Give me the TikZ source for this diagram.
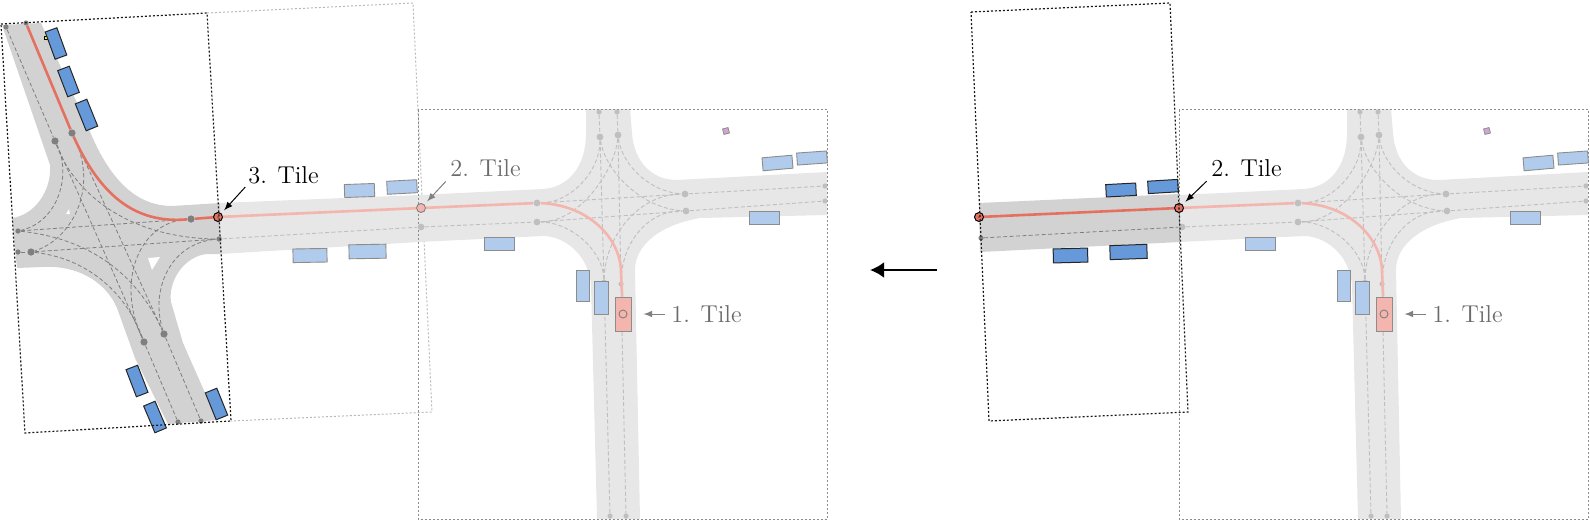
\documentclass[tikz,border=0pt]{standalone}
\usepackage{xcolor}
\usetikzlibrary{arrows,arrows.meta,shapes,positioning}

\definecolor{roadLight}{HTML}{E7E7E7}
\definecolor{roadDark}{HTML}{D2D2D2}
\definecolor{carLightFill}{HTML}{B1CBEC}
\definecolor{carDarkFill}{HTML}{6699D9}
\definecolor{egoFill}{HTML}{F3B5AD}
\definecolor{routeDark}{HTML}{E6705F}
\definecolor{routeLight}{HTML}{F3B5AD}
\definecolor{pointDark}{HTML}{7F7F7F}
\definecolor{pointLight}{HTML}{BFBFBF}

\tikzset{
    lane/.style={draw=pointLight, line width=.45pt, dash pattern=on 2pt off 1.2pt},
    laneDark/.style={draw=pointDark, line width=.4pt, dash pattern=on 2pt off 1.2pt},
    route/.style={draw=routeLight, line width=1.3pt},
    routeActive/.style={draw=routeDark, line width=1.3pt},
    point/.style={circle, fill=pointLight, inner sep=0pt, minimum size=2.6pt},
    pointBig/.style={point, minimum size=3.4pt},
    pointD/.style={circle, fill=pointDark, inner sep=0pt, minimum size=2.6pt},
    pointDBig/.style={pointD, minimum size=3.6pt},
    carLight/.style={draw=black!45, fill=carLightFill, line width=.45pt, inner sep=0pt, minimum width=15pt, minimum height=6.5pt},
    carDark/.style={draw=black!85, fill=carDarkFill, line width=.5pt, inner sep=0pt, minimum width=15pt, minimum height=6.2pt},
    ego/.style={draw=black!45, fill=egoFill, line width=.45pt, inner sep=0pt, minimum width=8pt, minimum height=17pt},
    egoDot/.style={circle, draw=black!50, line width=.45pt, inner sep=0pt, minimum size=4pt},
    nextFaint/.style={circle, draw=black!50, fill=routeLight, line width=.45pt, inner sep=0pt, minimum size=4.5pt},
    nextActive/.style={circle, draw=black, fill=routeDark, line width=.5pt, inner sep=0pt, minimum size=4.5pt,
        path picture={\fill[black!70] (path picture bounding box.center) circle (.4pt);}},
    tileBlack/.style={draw=black!90, line width=.6pt, dash pattern=on 1pt off 1pt},
    tileGray/.style={draw=black!45, line width=.5pt, dash pattern=on 1pt off 1pt},
    tileFaint/.style={draw=black!28, line width=.5pt, dash pattern=on 1pt off 1pt},
    labelFaint/.style={text=black!58, inner sep=0pt, font=\fontsize{12.2}{14}\selectfont},
    labelActive/.style={text=black, inner sep=0pt, font=\fontsize{12.2}{14}\selectfont},
    pointer/.style={->, >=latex, draw=black!50, line width=.5pt},
    pointerActive/.style={->, >=latex, draw=black, line width=.5pt},
}

% #1 prefix of the names, #2 style of the 2. tile point, #3 style of its label, #4 style of its pointer, #5 x of the point
\newcommand{\crossing}[5]{
    \fill[roadLight] (419,195) -- (543,189) .. controls (570,187) and (586,165) .. (586,133) -- (586,109)
        -- (630,109) -- (632,133) .. controls (634,162) and (652,180) .. (677,180) -- (827,172)
        -- (827,215) -- (700,218) .. controls (660,225) and (635,245) .. (635,270) -- (640,519)
        -- (597,519) -- (591,285) .. controls (588,252) and (562,236) .. (543,236) -- (419,242) -- cycle;
    \draw[tileGray] (418,109.5) rectangle (827,519);

    \node[point] (#1N1) at (599,112) {};
    \node[point] (#1N2) at (617,112) {};
    \node[pointBig] (#1N3) at (600,137) {};
    \node[pointBig] (#1N4) at (618,135) {};
    \node[pointBig] (#1W1) at (537,203) {};
    \node[pointBig] (#1W2) at (537,222) {};
    \node[pointBig] (#1E1) at (685,194) {};
    \node[pointBig] (#1E2) at (686,211) {};
    \node[point] (#1E3) at (825,186) {};
    \node[point] (#1E4) at (825,201) {};
    \node[point] (#1S1) at (621,284) {};
    \node[point] (#1S2) at (604,282) {};
    \node[point] (#1S3) at (626,516) {};
    \node[point] (#1S4) at (610,516) {};
    \node[pointBig] (#1F1) at (421,227) {};

    \draw[lane] (#1N1) -- (#1N3);
    \draw[lane] (#1N2) -- (#1N4);
    \draw[lane] (#1N3) -- (#1S2);
    \draw[lane] (#1N4) -- (#1S1);
    \draw[lane] (#1W1) -- (#1E1);
    \draw[lane] (#1W2) -- (#1E2);
    \draw[lane] (#1E1) -- (#1E3);
    \draw[lane] (#1E2) -- (#1E4);
    \draw[lane] (#1F1) -- (#1W2);
    \draw[lane] (#1S2) -- (#1S4);
    \draw[lane] (#1S1) -- (#1S3);
    \draw[lane] (#1N3) .. controls (600,172) and (570,203) .. (#1W1);
    \draw[lane] (#1N3) .. controls (605,170) and (640,208) .. (#1E2);
    \draw[lane] (#1N4) .. controls (622,165) and (650,192) .. (#1E1);
    \draw[lane] (#1N4) .. controls (615,170) and (580,222) .. (#1W2);
    \draw[lane] (#1S2) .. controls (603,250) and (570,222) .. (#1W2);
    \draw[lane] (#1S2) .. controls (605,235) and (640,194) .. (#1E1);
    \draw[lane] (#1S1) .. controls (622,240) and (650,210) .. (#1E2);

    \node[ego] (#1C0) at (623,314) {};
    \node[egoDot] (#1C00) at (623,314) {};
    \node[#2] (#1T2) at (#5,208) {};
    \draw[route] (#1C0) -- (621,272) .. controls (621,240) and (590,205) .. (#1W1);
    \draw[route] (#1W1) -- (#1T2);

    \node[carLight, minimum width=7pt, minimum height=16.5pt] (#1C1) at (601,297.5) {};
    \node[carLight, minimum width=6.5pt, minimum height=15.5pt] (#1C2) at (582.5,285.5) {};
    \node[carLight] (#1C3) at (499,243.5) {};
    \node[carLight] (#1C4) at (764.5,218) {};
    \node[carLight, rotate=5] (#1C5) at (777.5,163) {};
    \node[carLight, rotate=4, minimum height=6pt] (#1C6) at (812,158) {};
    \node[draw=black!45, fill=violet!35, line width=.4pt, inner sep=0pt, minimum size=2.8pt, rotate=15] (#1D1) at (726,131) {};

    \node[labelFaint] (#1L1) at (706.5,314) {1. Tile};
    \node[#3] (#1L2) at (485.5,168) {2. Tile};
    \draw[pointer, shorten <=3pt, shorten >=6pt] (#1L1.west) -- (#1C0.east);
    \draw[#4, shorten <=3pt, shorten >=2pt] (#1L2.south west) -- (#1T2);
}

\begin{document}
\begin{tikzpicture}[x=.5pt, y=-.5pt]
    \useasboundingbox (0,0) rectangle (1590,520);

    % the last step, tile 3 laid over tile 2
    \draw[tileFaint] (207,13) -- (413,3) -- (432,412) -- (231,421);
    \fill[roadLight] (220,203) -- (419,195) -- (419,242) -- (220,254) -- cycle;
    \crossing{m}{nextFaint}{labelFaint}{pointer}{421}

    \node[pointBig] (mF2) at (219,239) {};
    \draw[lane] (mF2) -- (mF1);

    \node[carLight, rotate=2] (mC7) at (359.5,190.5) {};
    \node[carLight, rotate=3] (mC8) at (402,187) {};
    \node[carLight, rotate=1, minimum width=17pt, minimum height=6.8pt] (mC9) at (310,255.5) {};
    \node[carLight, rotate=1, minimum width=18.5pt, minimum height=7pt] (mC10) at (367.5,251.5) {};

    \fill[roadDark] (2,25) -- (41,23) -- (95,143) .. controls (115,185) and (140,206) .. (172,206) -- (220,203)
        -- (220,254) -- (207,254) .. controls (185,256) and (168,280) .. (171,302) -- (183,343) -- (217,420)
        -- (168,424) -- (135,358) -- (117,308) .. controls (105,280) and (75,265) .. (43,267) -- (17,268)
        -- (12,218) .. controls (35,215) and (52,190) .. (50,165) -- cycle;
    \fill[white] (148,258) -- (160,257) -- (152,270) -- cycle;
    \fill[white] (69,209) -- (70,214) -- (66,214) -- cycle;

    \node[pointD] (n0) at (6,27) {};
    \node[pointD] (n1) at (26,23) {};
    \node[pointDBig] (n2) at (55,141) {};
    \node[pointDBig] (n3) at (72,133) {};
    \node[pointD] (w1) at (18,231) {};
    \node[pointD] (w2) at (18,252) {};
    \node[pointDBig] (w3) at (31,252) {};
    \node[pointDBig] (e1) at (191,219) {};
    \node[pointD] (e2) at (219,239) {};
    \node[pointDBig] (s1) at (144,342) {};
    \node[pointDBig] (s2) at (164,334) {};
    \node[pointD] (s3) at (178,422) {};
    \node[pointD] (s4) at (201,421) {};

    \draw[laneDark] (n0) -- (n2);
    \draw[laneDark] (n2) -- (s1);
    \draw[laneDark] (n3) -- (s2);
    \draw[laneDark] (s1) -- (s3);
    \draw[laneDark] (s2) -- (s4);
    \draw[laneDark] (w1) -- (e1);
    \draw[laneDark] (w2) -- (w3);
    \draw[laneDark] (w3) -- (e2);
    \draw[laneDark] (n2) .. controls (72,175) and (58,222) .. (w1);
    \draw[laneDark] (n2) .. controls (75,195) and (130,238) .. (e2);
    \draw[laneDark] (n3) .. controls (100,190) and (70,240) .. (w3);
    \draw[laneDark] (w1) .. controls (85,238) and (135,270) .. (s2);
    \draw[laneDark] (w3) .. controls (85,258) and (125,290) .. (s1);
    \draw[laneDark] (s1) .. controls (115,280) and (140,222) .. (e1);
    \draw[laneDark] (s2) .. controls (150,290) and (170,243) .. (e2);

    \node[nextActive] (t3) at (218,217) {};
    \draw[route] (t3) -- (mT2);
    \draw[routeActive] (n1) -- (n3) .. controls (100,195) and (135,224) .. (e1) -- (t3);

    \node[draw=black, fill=yellow, line width=.3pt, inner sep=0pt, minimum size=1.6pt] (y1) at (46,38) {};
    \node[carDark, minimum width=6.2pt, minimum height=14.5pt, rotate=20] (b1) at (56,43.5) {};
    \node[carDark, minimum width=6.2pt, minimum height=14pt, rotate=21] (b2) at (68.5,81.5) {};
    \node[carDark, minimum width=6.2pt, minimum height=14.5pt, rotate=22] (b3) at (86.5,115) {};
    \node[carDark, minimum width=6.2pt, minimum height=14.5pt, rotate=21] (b4) at (137,381) {};
    \node[carDark, minimum width=6.2pt, minimum height=14.5pt, rotate=23] (b5) at (155,417) {};
    \node[carDark, minimum width=6.2pt, minimum height=14.5pt, rotate=22] (b6) at (216.5,404) {};

    \draw[tileBlack] (1,24) -- (207,13) -- (231,421) -- (25,433) -- cycle;
    \node[labelActive] (l3) at (283.5,175) {3. Tile};
    \draw[pointerActive, shorten <=2pt, shorten >=2pt] (l3.south west) -- (t3);

    % the step before, tile 2 on the first tile
    \coordinate (a1) at (937,270);
    \coordinate (a2) at (870,270);
    \draw[-{Latex[length=7pt,width=8pt]}, line width=1.3pt] (a1) -- (a2);

    \fill[roadDark] (979,203) -- (1179,194) -- (1180,242) -- (980,252) -- cycle;
    \begin{scope}[shift={(761,0)}]
        \crossing{r}{nextActive}{labelActive}{pointerActive}{418}
    \end{scope}

    \node[pointD] (rF2) at (981,238) {};
    \draw[laneDark] (rF2) -- (rF1);
    \node[nextActive] (t2l) at (979,217) {};
    \draw[routeActive] (t2l) -- (rT2);
    \node[carDark, rotate=3] (rC7) at (1121,190) {};
    \node[carDark, rotate=3.5] (rC8) at (1163,186.5) {};
    \node[carDark, rotate=1.5, minimum width=17.2pt, minimum height=7pt] (rC9) at (1070.5,255.5) {};
    \node[carDark, rotate=2, minimum width=18.5pt, minimum height=7pt] (rC10) at (1128.5,252) {};
    \draw[tileBlack] (971,12) -- (1170,3) -- (1188,412) -- (989,421) -- cycle;
\end{tikzpicture}
\end{document}
